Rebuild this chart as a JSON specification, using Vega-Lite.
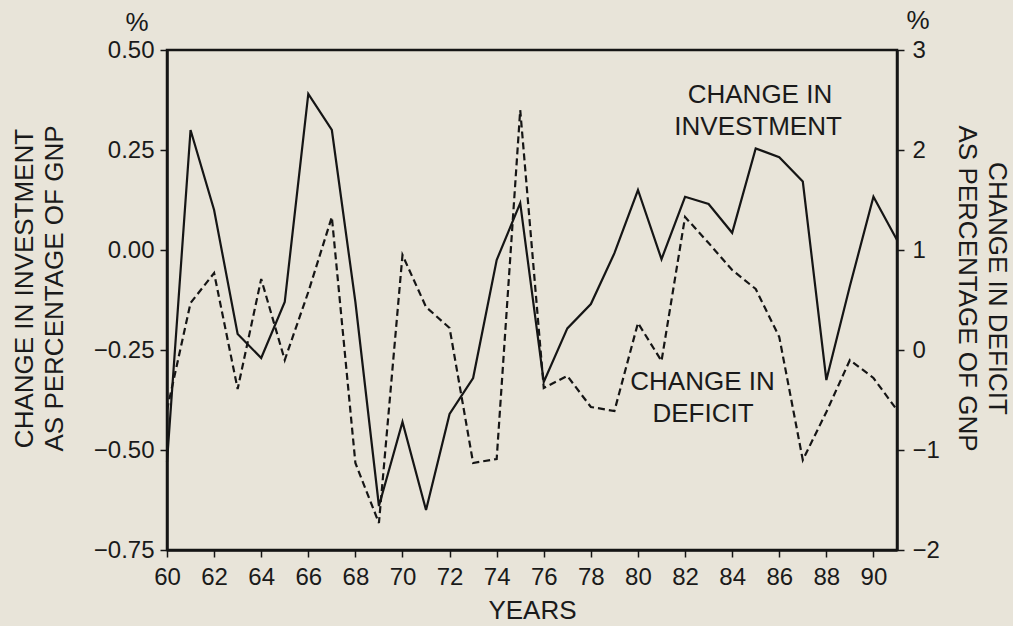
{
  "$schema": "https://vega.github.io/schema/vega-lite/v6.json",
  "width": 730,
  "height": 500,
  "autosize": "none",
  "padding": {"left": 167, "top": 50, "right": 116, "bottom": 76},
  "background": "#e8e4d9",
  "config": {
    "font": "Liberation Sans",
    "view": {"stroke": "#151515", "strokeWidth": 2.5},
    "axis": {
      "grid": false,
      "domainColor": "#151515",
      "domainWidth": 2.5,
      "tickColor": "#151515",
      "tickWidth": 1.5,
      "tickSize": 7,
      "labelFontSize": 24,
      "labelColor": "#1a1a1a",
      "labelFont": "Liberation Sans",
      "titleFont": "Liberation Sans",
      "titleFontSize": 26,
      "titleFontWeight": "normal",
      "titleColor": "#1a1a1a"
    }
  },
  "datasets": {
    "series": [
      {"year": 60, "inv": -0.53, "def": -0.6},
      {"year": 61, "inv": 0.3, "def": 0.47},
      {"year": 62, "inv": 0.1, "def": 0.77},
      {"year": 63, "inv": -0.21, "def": -0.39},
      {"year": 64, "inv": -0.27, "def": 0.71},
      {"year": 65, "inv": -0.13, "def": -0.1},
      {"year": 66, "inv": 0.39, "def": 0.58},
      {"year": 67, "inv": 0.3, "def": 1.33},
      {"year": 68, "inv": -0.13, "def": -1.13},
      {"year": 69, "inv": -0.64, "def": -1.73},
      {"year": 70, "inv": -0.43, "def": 0.95},
      {"year": 71, "inv": -0.65, "def": 0.43},
      {"year": 72, "inv": -0.41, "def": 0.22},
      {"year": 73, "inv": -0.32, "def": -1.13},
      {"year": 74, "inv": -0.025, "def": -1.09},
      {"year": 75, "inv": 0.117, "def": 2.4},
      {"year": 76, "inv": -0.33, "def": -0.38},
      {"year": 77, "inv": -0.196, "def": -0.26},
      {"year": 78, "inv": -0.135, "def": -0.57},
      {"year": 79, "inv": -0.008, "def": -0.61},
      {"year": 80, "inv": 0.15, "def": 0.27},
      {"year": 81, "inv": -0.023, "def": -0.11},
      {"year": 82, "inv": 0.133, "def": 1.33},
      {"year": 83, "inv": 0.115, "def": 1.07},
      {"year": 84, "inv": 0.043, "def": 0.8},
      {"year": 85, "inv": 0.254, "def": 0.61},
      {"year": 86, "inv": 0.232, "def": 0.13},
      {"year": 87, "inv": 0.171, "def": -1.1},
      {"year": 88, "inv": -0.325, "def": -0.62},
      {"year": 89, "inv": -0.09, "def": -0.1},
      {"year": 90, "inv": 0.133, "def": -0.28},
      {"year": 91, "inv": 0.025, "def": -0.6}
    ],
    "notes": [
      {"year": 85.18, "inv": 0.3875, "text": "CHANGE IN"},
      {"year": 85.1, "inv": 0.3075, "text": "INVESTMENT"},
      {"year": 82.74, "inv": -0.33, "text": "CHANGE IN"},
      {"year": 82.76, "inv": -0.411, "text": "DEFICIT"},
      {"year": 58.73, "inv": 0.568, "text": "%"},
      {"year": 91.89, "inv": 0.572, "text": "%"}
    ]
  },
  "layer": [
    {
      "layer": [
        {
          "data": {"name": "series"},
          "mark": {"type": "line", "color": "#151515", "strokeWidth": 2.2},
          "encoding": {
            "x": {
              "field": "year",
              "type": "quantitative",
              "scale": {"domain": [60, 91], "nice": false, "zero": false},
              "axis": {
                "title": "YEARS",
                "titlePadding": 8,
                "values": [60, 61, 62, 63, 64, 65, 66, 67, 68, 69, 70, 71, 72, 73, 74, 75, 76, 77, 78, 79, 80, 81, 82, 83, 84, 85, 86, 87, 88, 89, 90, 91],
                "labelExpr": "datum.value % 2 === 0 ? datum.value : ''",
                "labelPadding": 8,
                "labelFlush": false,
                "labelOverlap": false
              }
            },
            "y": {
              "field": "inv",
              "type": "quantitative",
              "scale": {"domain": [-0.75, 0.5], "nice": false, "zero": false},
              "axis": {
                "title": ["CHANGE IN INVESTMENT", "AS PERCENTAGE OF GNP"],
                "titleLineHeight": 30,
                "titlePadding": 26,
                "titleY": 238,
                "values": [0.5, 0.25, 0, -0.25, -0.5, -0.75],
                "format": ".2f",
                "labelPadding": 6
              }
            }
          }
        },
        {
          "data": {"name": "notes"},
          "mark": {"type": "text", "fontSize": 26, "color": "#1a1a1a", "align": "center", "baseline": "middle", "font": "Liberation Sans"},
          "encoding": {
            "x": {"field": "year", "type": "quantitative"},
            "y": {"field": "inv", "type": "quantitative"},
            "text": {"field": "text"}
          }
        }
      ]
    },
    {
      "data": {"name": "series"},
      "mark": {"type": "line", "color": "#151515", "strokeWidth": 2.2, "strokeDash": [7, 4]},
      "encoding": {
        "x": {"field": "year", "type": "quantitative"},
        "y": {
          "field": "def",
          "type": "quantitative",
          "scale": {"domain": [-2, 3], "nice": false, "zero": false},
          "axis": {
            "orient": "right",
            "title": ["CHANGE IN DEFICIT", "AS PERCENTAGE OF GNP"],
            "titleLineHeight": 30,
            "titlePadding": 14,
            "titleY": 238,
            "values": [3, 2, 1, 0, -1, -2],
            "format": "d",
            "labelPadding": 8
          }
        }
      }
    }
  ],
  "resolve": {"scale": {"y": "independent"}, "axis": {"y": "independent"}}
}
